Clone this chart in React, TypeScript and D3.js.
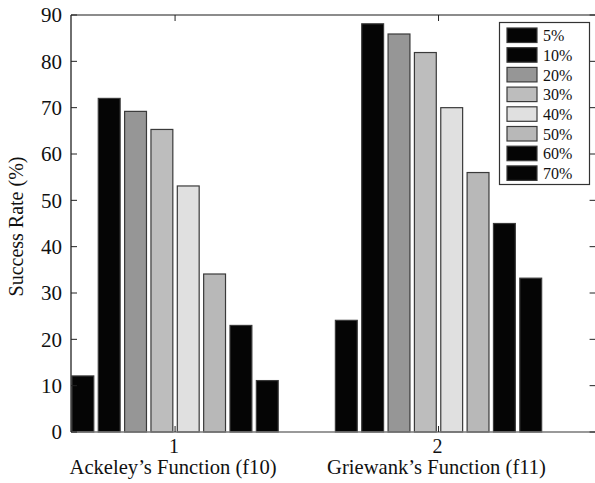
import React from 'react';
import * as d3 from 'd3';

// Success rate (%) per fraction, for the two test functions
const groups = [1, 2];
const groupNames = ["Ackeley\u2019s Function (f10)", "Griewank\u2019s Function (f11)"];
const series = ['5%', '10%', '20%', '30%', '40%', '50%', '60%', '70%'];
const ackeley = [12.1, 72, 69.2, 65.3, 53.1, 34.1, 23, 11.1];
const griewank = [24.1, 88.1, 85.9, 81.9, 70, 56, 45, 33.2];
const fills = ['#050505', '#050505', '#969696', '#bdbdbd', '#e0e0e0', '#b8b8b8', '#050505', '#050505'];
const yTicks = [0, 10, 20, 30, 40, 50, 60, 70, 80, 90];

const font = { fontFamily: '"Liberation Serif", "Times New Roman", serif' };

const App = () => {
  const x = d3.scaleLinear().domain([0.605, 2.6]).range([71, 596.6]);
  const y = d3.scaleLinear().domain([0, 90]).range([432, 15]);
  const values = [ackeley, griewank];
  const [x0, x1] = x.range();
  const [yb, yt] = y.range();

  return (
    <svg width={595} height={483}
      style={{ position: 'absolute', left: 0, top: 0, background: 'white', ...font }}>
      {/* bars */}
      {groups.map((g, gi) => {
        const band = d3.scaleBand()
          .domain(series)
          .range([x(g - 0.4), x(g + 0.4)])
          .paddingInner(0.17)
          .paddingOuter(0.085);
        return (
          <g key={g}>
            {values[gi].map((v, i) => (
              <rect key={i} x={band(series[i])} y={y(v)} width={band.bandwidth()}
                height={y(0) - y(v)} fill={fills[i]} stroke="#3a3a3a" strokeWidth={1.2} />
            ))}
          </g>
        );
      })}

      {/* box */}
      <line x1={x0} x2={x1} y1={yt} y2={yt} stroke="#666" strokeWidth={1.3} />
      <line x1={x0} x2={x1} y1={yb} y2={yb} stroke="#777" strokeWidth={1.3} />
      <line x1={x0} x2={x0} y1={yt} y2={yb} stroke="#222" strokeWidth={1.3} />

      {/* y ticks, left and right, pointing in */}
      {yTicks.map(t => (
        <g key={t}>
          <line x1={x0} x2={x0 + 6} y1={y(t)} y2={y(t)} stroke="#222" />
          <line x1={x1 - 7} x2={x1} y1={y(t)} y2={y(t)} stroke="#222" />
          <text x={x0 - 9} y={y(t)} dy="0.35em" textAnchor="end" fontSize={21}
            fill="#111" style={font}>{t}</text>
        </g>
      ))}

      {/* x ticks */}
      {groups.map((g, gi) => (
        <g key={g}>
          <line x1={x(g)} x2={x(g)} y1={yb} y2={yb - 6} stroke="#222" />
          <line x1={x(g)} x2={x(g)} y1={yt} y2={yt + 6} stroke="#222" />
          <text x={x(g) - 1} y={453} textAnchor="middle" fontSize={20} fill="#111" style={font}>{g}</text>
          <text x={x(g) - 2} y={474} textAnchor="middle" fontSize={20.6} fill="#111" style={font}>
            {groupNames[gi]}
          </text>
        </g>
      ))}

      {/* y label */}
      <text transform={`translate(23,${(yt + yb) / 2 + 3}) rotate(-90)`} textAnchor="middle"
        fontSize={20} fill="#111" style={font}>Success Rate (%)</text>

      {/* legend */}
      <rect x={499.5} y={22.5} width={90} height={162} fill="white" stroke="#333" strokeWidth={1.2} />
      {series.map((s, i) => (
        <g key={s} transform={`translate(507,${28 + i * 19.7})`}>
          <rect width={30} height={14.5} fill={fills[i]} stroke="#3a3a3a" strokeWidth={1.2} />
          <text x={36} y={7.5} dy="0.35em" fontSize={16} fill="#111" style={font}>{s}</text>
        </g>
      ))}
    </svg>
  );
};

export default App;
